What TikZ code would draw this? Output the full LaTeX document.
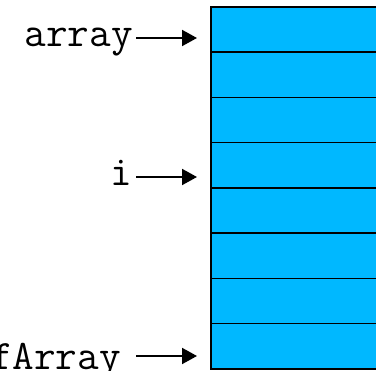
\documentclass[tikz,border=0pt]{standalone}
\usetikzlibrary{arrows.meta}
\definecolor{cellblue}{RGB}{0,184,255}
\tikzset{
  cell/.style={draw=black, line width=1.5pt, fill=cellblue, minimum width=200pt, minimum height=45.25pt, inner sep=0pt, outer sep=0pt, anchor=north west},
  lbl/.style={font=\ttfamily\fontsize{42pt}{46pt}\selectfont, inner sep=0pt, anchor=base east},
  ptr/.style={line width=2pt, -{Triangle[length=15pt,width=16pt]}}
}
\begin{document}
\begin{tikzpicture}[x=1pt,y=1pt]
\useasboundingbox (0,0) rectangle (376,-371);
\clip (0,0) rectangle (376,-371);
\foreach \k in {0,...,7}{
  \node[cell] (r\k) at (211,{-7-45.25*\k}) {};
}
\node[lbl] (la) at (133,-47) {array};
\node[lbl] (li) at (132,-186) {i};
\node[lbl] (le) at (121,-370) {fArray};
\coordinate (a0) at (136,-38);
\coordinate (i0) at (136,-177);
\coordinate (e0) at (136,-356);
\draw[ptr] (a0) -- ([xshift=-14pt]a0 -| r0.west);
\draw[ptr] (i0) -- ([xshift=-14pt]i0 -| r3.west);
\draw[ptr] (e0) -- ([xshift=-14pt]e0 -| r7.west);
\end{tikzpicture}
\end{document}
